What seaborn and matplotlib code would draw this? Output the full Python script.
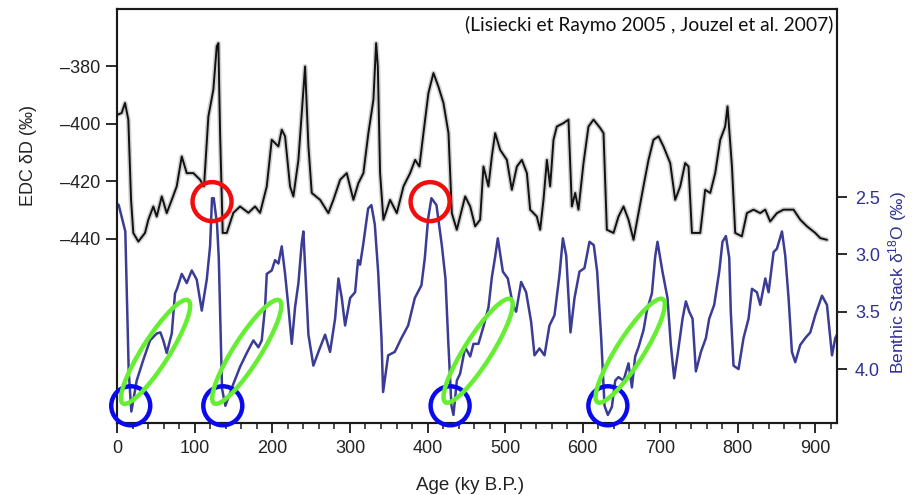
import numpy as np
import pandas as pd
import matplotlib
matplotlib.use("Agg")
import matplotlib.pyplot as plt
import matplotlib.transforms as mtransforms
from matplotlib.patches import Ellipse
from matplotlib.ticker import MultipleLocator
import seaborn as sns

# ---------------- data ----------------
edc_age = [0, 5.6, 9.9, 14.2, 17.7, 20.6, 27.1, 35.7, 40, 46.4, 50.8, 57.3, 63.7, 70.2, 76.6,
           83.1, 89.5, 98.1, 106.7, 111.8, 117.4, 123.8, 128.2, 130.3, 132.5, 135.9, 141.1,
           149.6, 158.3, 169, 177.6, 184.1, 192.7, 199.1, 207.7, 212, 216.3, 222.7, 227, 233.5,
           242.1, 246.4, 250.7, 261.5, 272.1, 278.6, 287.3, 295.8, 304.4, 310.8, 317.3, 323.7,
           330.2, 333.7, 335.9, 338.8, 343.1, 351.7, 360.4, 369, 377.5, 384, 389.5, 394.7, 401.1,
           407.6, 414, 420.5, 427, 431.3, 437.7, 448.5, 455, 461.4, 467.8, 472.1, 478.5, 482.9,
           487.2, 493.6, 502.3, 508.7, 515.2, 521.6, 528.1, 532.3, 540.9, 545.2, 549.5, 553.9,
           558.1, 562.4, 566.7, 575.3, 581.7, 586.1, 590.4, 594.6, 601.1, 607.5, 614, 622.6,
           626.9, 631.2, 639.8, 646.2, 652.7, 659.1, 665.6, 672, 678.4, 684.9, 691.3, 697.8,
           704.2, 712.9, 719.3, 725.8, 732.2, 736.5, 740.9, 751.6, 758, 764.5, 770.9, 777.4,
           783.8, 786.8, 792.5, 796.7, 805.3, 811.8, 820.3, 828.9, 835.4, 841.8, 850.5, 859,
           871.9, 880.6, 889.2, 899.9, 906.4, 915]
edc_dD = [-396.8, -396.2, -392.7, -398.5, -426.4, -437.9, -440.9, -437.9, -433.3, -428.7, -432.2,
          -425.2, -431, -426.4, -421.7, -411.3, -417.1, -417.1, -419.4, -421.7, -397.4, -388.1,
          -373, -371.9, -403.2, -437.9, -437.9, -430.9, -428.7, -430.9, -428.7, -430.9, -421.7,
          -405.5, -407.8, -402, -404.3, -421.7, -425.2, -412.5, -380, -407.8, -424, -426.4, -431,
          -426.4, -419.4, -417.1, -426.4, -420.6, -417.1, -403.2, -391.6, -371.9, -380, -417.1,
          -433.3, -426.4, -431, -421.7, -417.1, -412.5, -414.8, -403.2, -389.3, -382.3, -387,
          -392.7, -403.2, -431, -436.8, -425.2, -428.7, -435.6, -433.3, -414.8, -421.7, -411.3,
          -403.2, -409, -412.5, -422.9, -414.8, -412.5, -417.1, -429.8, -432.2, -436.8, -426.4,
          -412.5, -421.7, -405.5, -400.9, -399.7, -398.5, -428.7, -424, -429.8, -413.6, -400.9,
          -398.5, -401.4, -403.2, -436.8, -437.9, -432.2, -428.7, -433.3, -440.3, -431, -421.7,
          -412.5, -405.5, -404.3, -407.8, -413.6, -426.4, -421.7, -413.6, -414.8, -437.9, -437.9,
          -422.9, -424, -417.1, -405.5, -400.9, -393.9, -414.8, -437.9, -439.1, -431, -429.8,
          -431, -429.8, -433.9, -431, -429.8, -429.8, -433.3, -435.6, -437.9, -439.7, -440.3]

lr04_age = [0, 1.8, 10.3, 14.7, 18.1, 25, 33.5, 42.2, 50.8, 55.5, 59.3, 63.7, 70.2, 74.4, 77,
            83.1, 89.5, 96, 102.4, 108.9, 115.3, 119.6, 122.1, 124.3, 128.6, 130.8, 135, 139.3,
            149.6, 158.3, 166.9, 175.4, 181.9, 186.2, 190.5, 192.7, 199.1, 203.4, 207.7, 212,
            216.3, 220.6, 224.9, 229.2, 233.5, 237.8, 239.9, 246.4, 252.8, 259.3, 267.9, 274.3,
            280.8, 285.1, 289.4, 293.7, 300.2, 306.6, 310.4, 313, 316.9, 323.4, 327.6, 332, 336.3,
            340.6, 342.7, 349.2, 357.8, 366.3, 375, 383.6, 392.1, 396.5, 400.7, 405, 411.5, 418.4,
            423.1, 426.5, 430.8, 433.4, 437.8, 442, 448.5, 455, 459.2, 465.6, 472.1, 478.6, 482.9,
            487.2, 490.6, 497.1, 503.5, 510, 514.2, 520.7, 527.1, 533.6, 537.9, 544.3, 550.8,
            557.2, 563.7, 570.1, 574.5, 578.8, 584.3, 589.5, 595.9, 602.3, 608.8, 614.4, 618.7,
            623.9, 628.2, 632.5, 637.7, 642, 646.2, 652.7, 659.1, 663.5, 667.7, 672, 678.5, 682.8,
            689.3, 693.5, 696.5, 702.9, 709.4, 713.7, 718, 722.3, 728.8, 733.1, 737.4, 741.7, 746,
            752.5, 758.9, 763.2, 769.6, 776.1, 780.3, 784.7, 789, 791, 794.5, 801, 807.4, 813.9,
            818.3, 824.7, 829, 835.5, 839.7, 846.2, 850.5, 857, 861.2, 865.5, 869.8, 874.1, 880.5,
            887, 893.5, 899.9, 908.6, 915, 921.5, 925.7, 928]
lr04_d18O = [2.56, 2.57, 2.80, 4.02, 4.37, 4.10, 3.92, 3.75, 3.69, 3.68, 3.75, 3.86, 3.69, 3.34,
             3.30, 3.17, 3.25, 3.14, 3.22, 3.49, 3.22, 2.93, 2.51, 2.51, 2.74, 3.03, 4.17, 4.32,
             4.13, 3.98, 3.86, 3.75, 3.81, 3.75, 3.46, 3.17, 3.14, 3.05, 3.08, 2.93, 3.17, 3.46,
             3.78, 3.46, 3.25, 2.90, 2.80, 3.70, 3.97, 3.85, 3.70, 3.85, 3.56, 3.21, 3.38, 3.62,
             3.38, 3.33, 3.05, 3.09, 2.92, 2.60, 2.57, 2.74, 3.15, 3.73, 4.20, 3.88, 3.85, 3.73,
             3.62, 3.38, 3.27, 3.03, 2.69, 2.51, 2.57, 2.92, 3.21, 3.73, 4.32, 4.40, 4.10, 4.04,
             3.81, 3.89, 3.78, 3.78, 3.63, 3.46, 3.20, 3.02, 2.86, 3.15, 3.21, 3.44, 3.50, 3.24,
             3.33, 3.59, 3.88, 3.82, 3.88, 3.62, 3.53, 3.18, 2.86, 3.01, 3.68, 3.38, 3.15, 3.12,
             2.89, 2.92, 3.15, 3.73, 4.32, 4.40, 4.33, 4.10, 4.07, 4.10, 3.95, 4.16, 3.89, 3.81,
             3.66, 3.49, 3.34, 3.02, 2.89, 3.15, 3.38, 3.79, 4.08, 3.88, 3.56, 3.41, 3.50, 3.56,
             4.02, 3.85, 3.73, 3.56, 3.44, 3.15, 2.89, 2.84, 3.03, 3.50, 3.97, 4.00, 3.73, 3.56,
             3.30, 3.33, 3.44, 3.21, 3.33, 2.98, 2.95, 2.80, 3.01, 3.38, 3.85, 3.94, 3.79, 3.73,
             3.68, 3.53, 3.36, 3.44, 3.88, 3.73, 3.70]

left_ticks = [-380, -400, -420, -440]
right_ticks = [2.5, 3.0, 3.5, 4.0]
x_ticks = [0, 100, 200, 300, 400, 500, 600, 700, 800, 900]

# annotation marks (age, d18O) on the benthic axis
red_circle_age = [122.1, 403.3]
red_circle_val = [2.54, 2.54]
blue_circle_age = [17.3, 136.0, 429.1, 632.5]
blue_circle_val = [4.32, 4.32, 4.32, 4.32]
green_ell_age = [49.3, 166.9, 465.2, 661.3]
green_ell_val = [3.85, 3.85, 3.84, 3.84]

source_text = "(Lisiecki et Raymo 2005 , Jouzel et al. 2007)"

# ---------------- style ----------------
sns.set_style("ticks")
plt.rcParams["font.family"] = ["Liberation Sans", "DejaVu Sans"]
plt.rcParams["mathtext.default"] = "regular"

BLUE_LINE = "#3a3c95"
BLUE_TEXT = "#2e3192"
TXT = "#222222"

fig = plt.figure(figsize=(9.13, 4.95), dpi=100)
ax = fig.add_axes([0.1285, 0.1455, 0.7883, 0.8364])
ax2 = ax.twinx()

edc = pd.DataFrame({"age": edc_age, "dD": edc_dD})
lr04 = pd.DataFrame({"age": lr04_age, "d18O": lr04_d18O})

# halo under EDC curve (blurred envelope)
sns.lineplot(data=edc, x="age", y="dD", ax=ax, color="#9a9a9a", lw=3.6, alpha=0.45,
             estimator=None, sort=False)
sns.lineplot(data=edc, x="age", y="dD", ax=ax, color="#111111", lw=1.4,
             estimator=None, sort=False)
sns.lineplot(data=lr04, x="age", y="d18O", ax=ax2, color=BLUE_LINE, lw=1.8,
             estimator=None, sort=False)

ax.set_xlim(0, 928)
ax.set_ylim(-504, -360)
ax2.set_ylim(4.47, 0.86)

ax.set_yticks(left_ticks)
ax.set_yticklabels([f"{v:d}".replace("-", "\u2013") for v in left_ticks])
ax2.set_yticks(right_ticks)
ax2.set_yticklabels([f"{v:.1f}" for v in right_ticks])
ax.set_xticks(x_ticks)
ax.xaxis.set_minor_locator(MultipleLocator(20))

for a in (ax, ax2):
    for s in a.spines.values():
        s.set_visible(True)
        s.set_linewidth(1.5)
        s.set_color("#1a1a1a")
    a.grid(False)

ax.tick_params(axis="y", which="major", direction="out", length=8, width=1.3,
               labelsize=13, colors="#1a1a1a", labelcolor=TXT, pad=4)
ax.tick_params(axis="x", which="major", direction="out", length=7, width=1.3,
               labelsize=13, colors="#1a1a1a", labelcolor=TXT, pad=5)
ax.tick_params(axis="x", which="minor", direction="out", length=4, width=1.1,
               colors="#1a1a1a")
ax2.tick_params(axis="y", which="major", direction="out", length=7, width=1.3,
                labelsize=13, colors="#1a1a1a", labelcolor=BLUE_TEXT, pad=6)

ax.set_xlabel("Age (ky B.P.)", fontsize=13.5, color=TXT)
ax.set_ylabel("EDC \u03b4D (\u2030)", fontsize=13, color=TXT)
ax2.set_ylabel("Benthic Stack \u03b4$^{18}$O (\u2030)", fontsize=12.5, color=BLUE_TEXT)
ax.xaxis.set_label_coords(0.49, -0.13)
ax.yaxis.set_label_coords(-0.112, 0.647)
ax2.yaxis.set_label_coords(1.068, 0.34)

ax.text(0.995, 0.962, source_text, transform=ax.transAxes, ha="right", va="center",
        fontsize=13.9, family=["Lato", "DejaVu Sans"], color="#111111")

# ---------------- annotation rings (sizes in inches, placed on data points) ----------------
def ring(x, y, w, h, angle, color):
    tr = fig.dpi_scale_trans + mtransforms.ScaledTranslation(x, y, ax2.transData)
    e = Ellipse((0, 0), w, h, angle=angle, fill=False, edgecolor=color, lw=3.2,
                transform=tr, clip_on=False, zorder=5)
    ax2.add_patch(e)

for x, y in zip(red_circle_age, red_circle_val):
    ring(x, y, 0.39, 0.39, 0, "#f20d0d")
for x, y in zip(blue_circle_age, blue_circle_val):
    ring(x, y, 0.39, 0.39, 0, "#0a0aee")
for x, y in zip(green_ell_age, green_ell_val):
    ring(x, y, 1.22, 0.27, 57.6, "#66ee33")

fig.savefig("out.png", dpi=100)
